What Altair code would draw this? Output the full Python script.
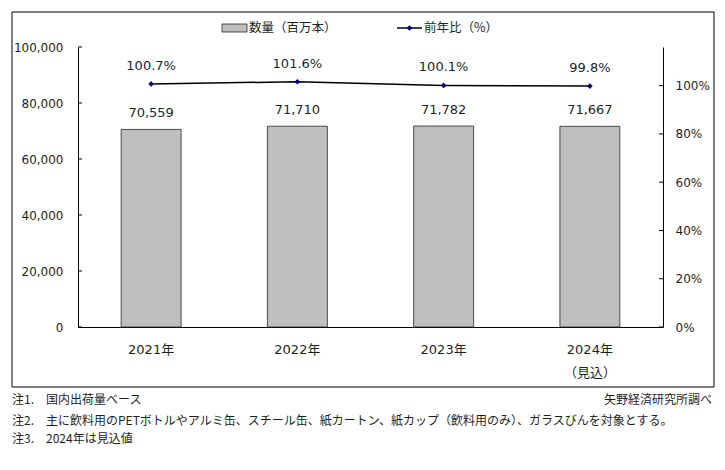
import altair as alt
import pandas as pd

# ---- data ----
years = ["2021年", "2022年", "2023年", "2024年\n（見込）"]
volume = [70559, 71710, 71782, 71667]
yoy = [100.7, 101.6, 100.1, 99.8]
vol_labels = ["70,559", "71,710", "71,782", "71,667"]
yoy_labels = ["100.7%", "101.6%", "100.1%", "99.8%"]
left_ticks = [0, 20000, 40000, 60000, 80000, 100000]
right_ticks = [0, 20, 40, 60, 80, 100]
legend_bar = "数量（百万本）"
legend_line = "前年比（%）"
notes = [
    "注1.　国内出荷量ベース",
    "注2.　主に飲料用のPETボトルやアルミ缶、スチール缶、紙カートン、紙カップ（飲料用のみ）、ガラスびんを対象とする。",
    "注3.　2024年は見込値",
]
source = "矢野経済研究所調べ"

df = pd.DataFrame({"year": years, "volume": volume, "yoy": yoy,
                   "vlab": vol_labels, "ylab": yoy_labels})
lt = pd.DataFrame({"volume": left_ticks})
rt = pd.DataFrame({"yoy": right_ticks})

NUM_FONT = "DejaVu Sans"
MIX_FONT = "DejaVu Sans, Noto Sans CJK JP"
JP_FONT = "Noto Sans CJK JP"
TXT = "#1f1f1f"

xaxis = alt.Axis(labelExpr="split(datum.label, '\\n')", labelAngle=0,
                 ticks=False, tickSize=0, labelPadding=16,
                 labelFont=MIX_FONT, labelFontSize=13, labelColor=TXT,
                 labelLineHeight=23, labelBaseline="top",
                 domainColor="#000000", domainWidth=1, grid=False)
xenc = alt.X("year:N", sort=years, title=None,
             scale=alt.Scale(paddingInner=0.59, paddingOuter=0.295), axis=xaxis)

yleft = alt.Scale(domain=[0, 100000], nice=False)
yright = alt.Scale(domain=[0, 116], nice=False)
left_axis = alt.Axis(values=left_ticks, format=",.0f", ticks=False, tickSize=0,
                     labelPadding=15, labelFont=NUM_FONT, labelFontSize=12,
                     labelColor=TXT, domainColor="#000000", grid=False)
right_axis = alt.Axis(orient="right", values=right_ticks,
                      labelExpr="datum.value + '%'", ticks=False, tickSize=0,
                      labelPadding=12, labelFont=NUM_FONT, labelFontSize=12,
                      labelColor=TXT, domainColor="#000000", grid=False)

def yl():
    return alt.Y("volume:Q", scale=yleft, title=None, axis=left_axis)

def yr():
    return alt.Y("yoy:Q", scale=yright, title=None, axis=right_axis)

bars = alt.Chart(df).mark_bar(color="#bfbfbf", stroke="#262626", strokeWidth=0.8).encode(
    x=xenc, y=yl())
bar_text = alt.Chart(df).mark_text(font=NUM_FONT, fontSize=13, color=TXT,
                                   baseline="middle", dy=-16).encode(
    x=xenc, y=yl(), text="vlab:N")
lticks = alt.Chart(lt).mark_rule(color="#000000", strokeWidth=1).encode(
    y=yl(), x=alt.value(0), x2=alt.value(4))

left_group = alt.layer(bars, bar_text, lticks)

line = alt.Chart(df).mark_line(color="#000000", strokeWidth=1.5).encode(
    x=xenc, y=yr())
pts = alt.Chart(df).mark_point(shape="diamond", filled=True, color="#000080",
                               size=32, opacity=1).encode(x=xenc, y=yr())
line_text = alt.Chart(df).mark_text(font=NUM_FONT, fontSize=13, color=TXT,
                                    baseline="middle", dy=-18).encode(
    x=xenc, y=yr(), text="ylab:N")
rticks = alt.Chart(rt).mark_rule(color="#000000", strokeWidth=1).encode(
    y=yr(), x=alt.value(581), x2=alt.value(585))

right_group = alt.layer(line, pts, line_text, rticks)

one = alt.Data(values=[{}])

border = alt.Chart(one).mark_rect(fill=None, stroke="#000000", strokeWidth=1).encode(
    x=alt.value(-66), x2=alt.value(636), y=alt.value(-35), y2=alt.value(340))

leg_rect = alt.Chart(one).mark_rect(fill="#bfbfbf", stroke="#262626", strokeWidth=0.8).encode(
    x=alt.value(144), x2=alt.value(169), y=alt.value(-23), y2=alt.value(-15))
leg_t1 = alt.Chart(one).mark_text(text=legend_bar, font=JP_FONT, fontSize=12.5,
                                  color=TXT, align="left", baseline="middle").encode(
    x=alt.value(171), y=alt.value(-19))
leg_line = alt.Chart(one).mark_rule(color="#000000", strokeWidth=1.5).encode(
    x=alt.value(319), x2=alt.value(344), y=alt.value(-19))
leg_pt = alt.Chart(one).mark_point(shape="diamond", filled=True, color="#000080",
                                   size=32, opacity=1).encode(
    x=alt.value(331.5), y=alt.value(-19))
leg_t2 = alt.Chart(one).mark_text(text=legend_line, font=JP_FONT, fontSize=12.5,
                                  color=TXT, align="left", baseline="middle").encode(
    x=alt.value(346), y=alt.value(-19))

note_layers = []
for txt, yy in zip(notes, [353, 374, 392]):
    note_layers.append(alt.Chart(one).mark_text(text=txt, font=JP_FONT, fontSize=12,
                                                color=TXT, align="left",
                                                baseline="middle").encode(
        x=alt.value(-66), y=alt.value(yy)))
src = alt.Chart(one).mark_text(text=source, font=JP_FONT, fontSize=12, color=TXT,
                               align="right", baseline="middle").encode(
    x=alt.value(634), y=alt.value(353))

main = alt.layer(left_group, right_group).resolve_scale(y="independent")

chart = alt.layer(main, border, leg_rect, leg_t1, leg_line, leg_pt, leg_t2,
                  *note_layers, src).properties(
    width=585, height=280,
    padding={"left": 78, "top": 47, "right": 62, "bottom": 143},
    autosize=alt.AutoSizeParams(type="none"),
    background="#ffffff",
).configure_view(stroke=None)

chart.save("out.html", embed_options={"renderer": "svg", "actions": False})
